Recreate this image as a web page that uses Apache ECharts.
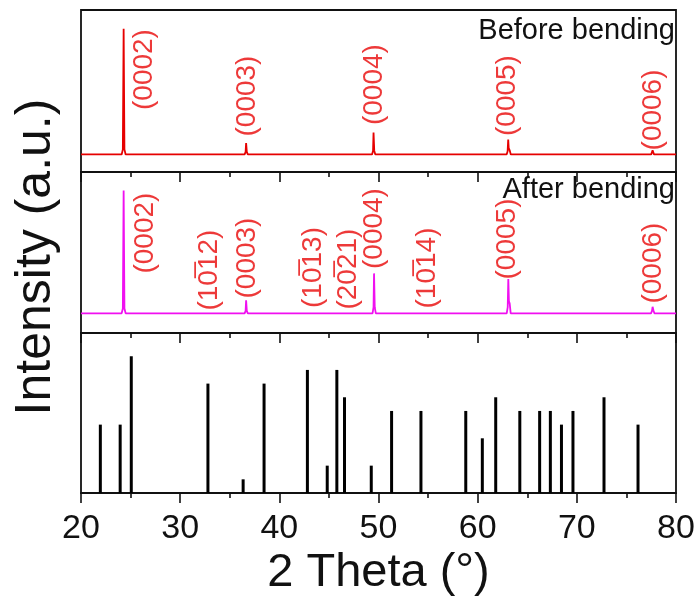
<!DOCTYPE html>
<html>
<head>
<meta charset="utf-8">
<script src="https://cdn.jsdelivr.net/npm/echarts@6/dist/echarts.min.js"></script>
<style>
  html, body { margin: 0; padding: 0; background: #fff; }
  #chart { width: 699px; height: 602px; }
</style>
</head>
<body>
<div id="chart"></div>
<script>
// ---- Before bending scan: 2θ (deg) and normalised intensity ----
const beforeTheta = [20, 24.1, 24.22, 24.3, 24.38, 24.5,
  36.5, 36.6, 36.65, 36.72, 36.82,
  49.35, 49.45, 49.5, 49.57, 49.68,
  62.92, 63.02, 63.08, 63.13, 63.24, 63.34,
  77.5, 77.64, 77.78, 80];
const beforeI = [0, 0, 4, 100, 4, 0,
  0, 2, 9, 2, 0,
  0, 3, 17.4, 3, 0,
  0, 2.5, 11.8, 5, 3, 0,
  0, 3.2, 0, 0];

// ---- After bending scan ----
const afterTheta = [20, 24.1, 24.22, 24.3, 24.38, 24.5,
  36.5, 36.6, 36.65, 36.72, 36.82,
  49.4, 49.5, 49.55, 49.62, 49.73,
  62.93, 63.03, 63.09, 63.15, 63.23, 63.33,
  77.48, 77.58, 77.64, 77.72, 77.82, 80];
const afterI = [0, 0, 4, 100, 4, 0,
  0, 2, 10.7, 2, 0,
  0, 5, 32.5, 5, 0,
  0, 5, 28, 10, 8, 0,
  0, 2, 5.3, 2.5, 0, 0];

// ---- Reference stick pattern ----
const refTheta = [21.95, 23.95, 25.07, 32.8, 36.35, 38.46, 42.83, 44.83, 45.8, 46.57,
  49.27, 51.32, 54.28, 58.8, 60.47, 61.82, 64.25, 66.25, 67.33, 68.45,
  69.61, 72.74, 76.17];
const refI = [50, 50, 100, 80, 10, 80, 90, 20, 90, 70,
  20, 60, 60, 60, 40, 70, 60, 60, 60, 50,
  60, 70, 50];

// ---- Reflection indices ----
const beforeHkl = ['(0002)', '(0003)', '(0004)', '(0005)', '(0006)'];
const afterHkl = ['(0002)', '(10\u030512)', '(0003)', '(10\u030513)', '(20\u030521)',
  '(0004)', '(10\u030514)', '(0005)', '(0006)'];

// ---- Axis ticks ----
const xMin = 20, xMax = 80, xStep = 10;

// Label anchors (2θ, intensity) used to place the rotated index labels
const beforeLabelAt = [[26.38, 67.6], [36.81, 46.5], [49.55, 55.6], [62.96, 46.9], [77.68, 35.4]];
const afterLabelAt = [[26.45, 65.3], [32.96, 35.2], [36.8, 45], [43.45, 37.3], [46.92, 36],
  [49.55, 69], [54.9, 36.9], [62.96, 60.5], [77.68, 40.9]];

const FONT = "'Liberation Sans', Arial, Helvetica, sans-serif";
const INK = '#111';
const LABEL_RED = '#e80808';

const pairs = (xs, ys) => xs.map((x, i) => [x, ys[i]]);
const labelData = (names, at) => names.map((n, i) => ({ name: n, value: at[i] }));

const frameAxis = (gridIndex, position, opts) => Object.assign({
  type: 'value', gridIndex, position, min: xMin, max: xMax, interval: xStep,
  axisLine: { show: true, onZero: false, lineStyle: { color: INK, width: 1.8 } },
  axisTick: { show: true, inside: true, length: 10, lineStyle: { color: INK, width: 1.6 } },
  minorTick: { show: true, splitNumber: 2, length: 5, lineStyle: { color: INK, width: 1.6 } },
  axisLabel: { show: false },
  splitLine: { show: false }, minorSplitLine: { show: false }
}, opts || {});

const hiddenY = (gridIndex, min, max) => ({
  type: 'value', gridIndex, min, max, show: false,
  splitLine: { show: false }
});

const labelSeries = (xAxisIndex, yAxisIndex, data) => ({
  type: 'scatter', xAxisIndex, yAxisIndex, data, symbolSize: 0, silent: true,
  label: {
    show: true, formatter: p => p.name, rotate: 90, position: 'inside',
    fontSize: 28, fontFamily: FONT, color: LABEL_RED
  }
});

const chart = echarts.init(document.getElementById('chart'), null, { renderer: 'canvas' });

chart.setOption({
  animation: false,
  backgroundColor: '#fff',
  grid: [
    { left: 81, top: 10, width: 595, height: 162, show: true, borderColor: INK, borderWidth: 1.8 },
    { left: 81, top: 172, width: 595, height: 161, show: true, borderColor: INK, borderWidth: 1.8 },
    { left: 81, top: 333, width: 595, height: 160, show: true, borderColor: INK, borderWidth: 1.8 }
  ],
  xAxis: [
    frameAxis(0, 'bottom', { show: false }),
    frameAxis(1, 'top'),
    frameAxis(2, 'top'),
    frameAxis(2, 'bottom', {
      axisTick: { show: true, inside: false, length: 10, lineStyle: { color: INK, width: 1.6 } },
      minorTick: { show: true, splitNumber: 2, length: 5, lineStyle: { color: INK, width: 1.6 } },
      axisLabel: { show: true, fontSize: 34, fontFamily: FONT, color: '#111', margin: 19 },
      name: '2 Theta (°)', nameLocation: 'middle', nameGap: 57,
      nameTextStyle: { fontSize: 47, fontFamily: FONT, color: '#111' }
    })
  ],
  yAxis: [
    hiddenY(0, -14, 115),
    hiddenY(1, -16, 115),
    hiddenY(2, 0, 117)
  ],
  graphic: [
    {
      type: 'text', x: 36, y: 257, rotation: Math.PI / 2,
      style: { text: 'Intensity (a.u.)', fontSize: 50, fontFamily: FONT, fill: '#111',
        textAlign: 'center', textVerticalAlign: 'middle' }
    },
    {
      type: 'text', x: 675, y: 31,
      style: { text: 'Before bending', fontSize: 29, fontFamily: FONT, fill: '#111',
        textAlign: 'right', textVerticalAlign: 'middle' }
    },
    {
      type: 'text', x: 675, y: 190,
      style: { text: 'After bending', fontSize: 29, fontFamily: FONT, fill: '#111',
        textAlign: 'right', textVerticalAlign: 'middle' }
    }
  ],
  series: [
    {
      type: 'line', xAxisIndex: 0, yAxisIndex: 0, data: pairs(beforeTheta, beforeI),
      showSymbol: false, lineStyle: { color: '#e60000', width: 1.8 }, silent: true
    },
    {
      type: 'line', xAxisIndex: 1, yAxisIndex: 1, data: pairs(afterTheta, afterI),
      showSymbol: false, lineStyle: { color: '#f010f0', width: 1.8 }, silent: true
    },
    {
      type: 'bar', xAxisIndex: 3, yAxisIndex: 2, data: pairs(refTheta, refI),
      barWidth: 3, itemStyle: { color: '#000' }, silent: true
    },
    labelSeries(0, 0, labelData(beforeHkl, beforeLabelAt)),
    labelSeries(1, 1, labelData(afterHkl, afterLabelAt))
  ]
});
</script>
</body>
</html>
